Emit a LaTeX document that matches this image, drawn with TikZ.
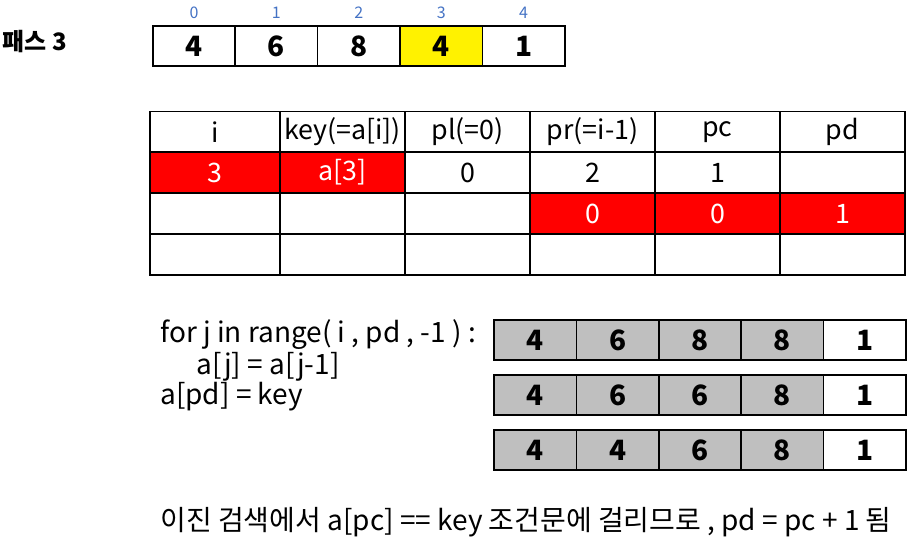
\documentclass[tikz,border=0pt]{standalone}
\usepackage{fontspec}
\setmainfont{Noto Sans CJK KR}
\usetikzlibrary{positioning}
\definecolor{idxblue}{HTML}{4472C4}
\definecolor{hitred}{HTML}{FF0000}
\definecolor{moved}{HTML}{BFBFBF}
\tikzset{
  arr/.style={draw,line width=0.8pt,minimum width=41.2pt,minimum height=20pt,inner sep=0pt,font=\bfseries\fontsize{14}{16}\selectfont},
  tab/.style={draw,line width=0.8pt,minimum width=62.5pt,minimum height=20.4pt,inner sep=0pt,font=\fontsize{13.4}{15}\selectfont},
  tabred/.style={tab,fill=hitred,text=white},
  idx/.style={idxblue,font=\fontsize{8}{9}\selectfont}
}

\begin{document}
\begin{tikzpicture}[x=0.5pt,y=-0.5pt,font=\fontsize{14}{16}\selectfont]
\useasboundingbox (0,0) rectangle (913,542);
\node[anchor=west,inner sep=0pt,font=\bfseries\fontsize{12}{14}\selectfont] (pass) at (2,42) {패스 3};
% pass 3 array
\foreach \v [count=\k from 0] in {4,6,8,4,1} {
  \node[arr] (top\k) at (194+82.4*\k,46) {\v};
  \node[idx] (idx\k) at (194+82.4*\k,13) {\k};
}
\node[arr,fill=yellow] at (top3) {4};

% variables table
\node[tab,minimum width=65pt] (h0) at (215,132) {i};
\foreach \t [count=\k] in {key(=a[i]),pl(=0),pr(=i-1),pc,pd}
  \node[tab] (h\k) at (217.5+125*\k,132) {\t};
\node[tabred,minimum width=65pt] (r0) at (215,172.5) {3};
\node[tabred] (r1) at (342.5,172.5) {a[3]};
\foreach \t [count=\k from 2] in {0,2,1,{}}
  \node[tab] (r\k) at (217.5+125*\k,172.5) {\t};
\node[tab,minimum width=65pt] (s0) at (215,213.5) {};
\foreach \k in {1,2} \node[tab] (s\k) at (217.5+125*\k,213.5) {};
\foreach \t [count=\k from 3] in {0,0,1}
  \node[tabred] (s\k) at (217.5+125*\k,213.5) {\t};
\node[tab,minimum width=65pt] (u0) at (215,254.5) {};
\foreach \k in {1,...,5} \node[tab] (u\k) at (217.5+125*\k,254.5) {};

% shifting code
\node[anchor=west,inner sep=0pt] (code1) at (160,335) {for j in range( i , pd , -1 ) :};
\node[anchor=west,inner sep=0pt] (code2) at (196,367) {a[j] = a[j-1]};
\node[anchor=west,inner sep=0pt] (code3) at (160,397) {a[pd] = key};

% shifting steps
\foreach \row/\y in {{4,6,8,8}/340,{4,6,6,8}/395,{4,4,6,8}/450} {
  \foreach \v [count=\k from 0] in \row
    \node[arr,fill=moved] (m\y-\k) at (535.2+82.4*\k,\y) {\v};
  \node[arr] (m\y-4) at (864.8,\y) {1};
}

\node[anchor=west,inner sep=0pt] (note) at (160,522) {이진 검색에서 a[pc] == key 조건문에 걸리므로 , pd = pc + 1 됨};
\end{tikzpicture}
\end{document}
